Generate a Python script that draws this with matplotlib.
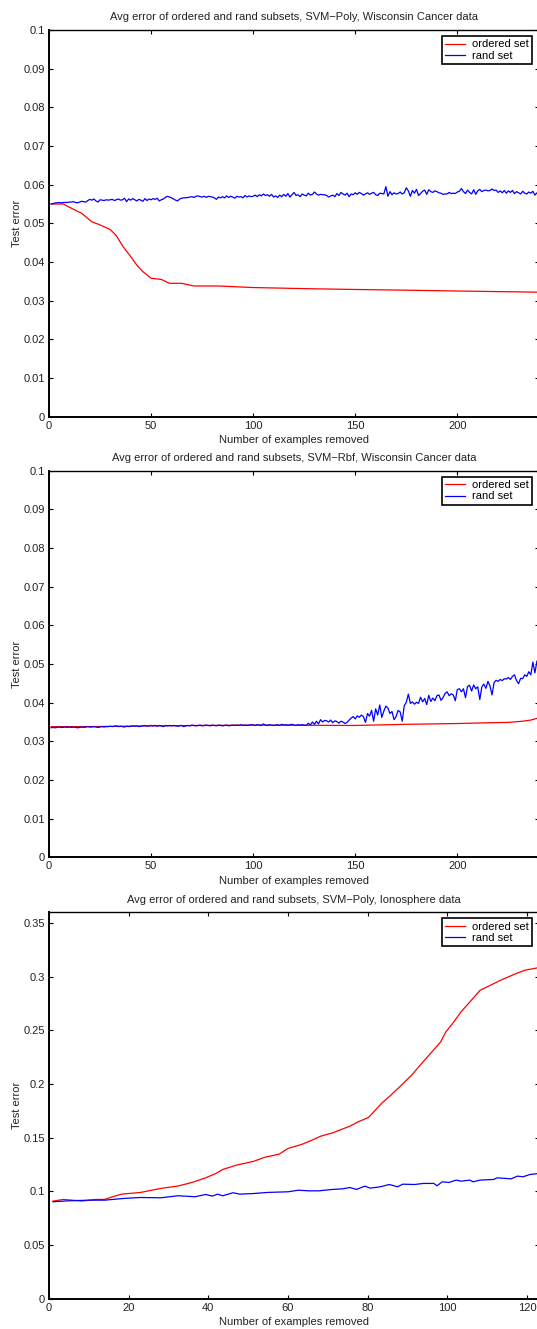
import matplotlib
matplotlib.use("Agg")
import matplotlib.pyplot as plt
import numpy as np
from matplotlib.ticker import FixedLocator

plt.rcParams['font.family'] = ['Liberation Sans', 'DejaVu Sans']
FS = 8

# ---- panel 1: SVM-Poly, Wisconsin Cancer ----
poly_wc_ordered_x = [1, 7, 11, 16, 21, 25, 30, 33, 36, 40, 43, 46, 50, 55, 59, 65, 71,
                     83, 100, 127, 150, 177, 200, 240]
poly_wc_ordered_y = [0.0550, 0.0550, 0.0539, 0.0526, 0.0504, 0.0496, 0.0484, 0.0468,
                     0.0442, 0.0414, 0.0392, 0.0375, 0.0358, 0.0355, 0.0345, 0.0345,
                     0.0338, 0.0338, 0.0334, 0.0331, 0.0329, 0.0327, 0.0325, 0.0322]
poly_wc_rand = [
    0.0550, 0.0551, 0.0553, 0.0553, 0.0554, 0.0553, 0.0554, 0.0554, 0.0554, 0.0555,
    0.0555, 0.0556, 0.0554, 0.0553, 0.0555, 0.0557, 0.0556, 0.0555, 0.0559, 0.0562,
    0.0560, 0.0563, 0.0558, 0.0555, 0.0561, 0.0560, 0.0559, 0.0561, 0.0560, 0.0561,
    0.0562, 0.0559, 0.0561, 0.0563, 0.0560, 0.0561, 0.0565, 0.0556, 0.0563, 0.0560,
    0.0564, 0.0561, 0.0558, 0.0562, 0.0560, 0.0557, 0.0564, 0.0559, 0.0563, 0.0561,
    0.0564, 0.0562, 0.0565, 0.0558, 0.0561, 0.0563, 0.0567, 0.0570, 0.0568, 0.0566,
    0.0563, 0.0560, 0.0558, 0.0563, 0.0565, 0.0566, 0.0566, 0.0567, 0.0568, 0.0569,
    0.0567, 0.0570, 0.0571, 0.0569, 0.0568, 0.0570, 0.0567, 0.0570, 0.0569, 0.0568,
    0.0566, 0.0562, 0.0568, 0.0566, 0.0569, 0.0566, 0.0571, 0.0567, 0.0570, 0.0568,
    0.0565, 0.0570, 0.0568, 0.0569, 0.0566, 0.0572, 0.0568, 0.0571, 0.0569, 0.0570,
    0.0573, 0.0569, 0.0574, 0.0571, 0.0576, 0.0572, 0.0574, 0.0570, 0.0575, 0.0568,
    0.0571, 0.0567, 0.0573, 0.0569, 0.0575, 0.0570, 0.0577, 0.0568, 0.0574, 0.0580,
    0.0572, 0.0574, 0.0569, 0.0576, 0.0573, 0.0571, 0.0578, 0.0573, 0.0575, 0.0581,
    0.0576, 0.0573, 0.0575, 0.0574, 0.0574, 0.0572, 0.0568, 0.0571, 0.0573, 0.0569,
    0.0577, 0.0572, 0.0580, 0.0576, 0.0573, 0.0578, 0.0569, 0.0576, 0.0574, 0.0579,
    0.0575, 0.0580, 0.0577, 0.0573, 0.0576, 0.0579, 0.0575, 0.0578, 0.0580, 0.0574,
    0.0572, 0.0578, 0.0577, 0.0576, 0.0595, 0.0570, 0.0582, 0.0574, 0.0579, 0.0576,
    0.0577, 0.0581, 0.0576, 0.0579, 0.0592, 0.0584, 0.0570, 0.0585, 0.0578, 0.0588,
    0.0572, 0.0577, 0.0583, 0.0586, 0.0575, 0.0587, 0.0582, 0.0580, 0.0584, 0.0582,
    0.0579, 0.0578, 0.0575, 0.0576, 0.0576, 0.0580, 0.0577, 0.0578, 0.0577, 0.0581,
    0.0583, 0.0590, 0.0582, 0.0577, 0.0586, 0.0580, 0.0576, 0.0587, 0.0575, 0.0584,
    0.0588, 0.0582, 0.0585, 0.0586, 0.0584, 0.0585, 0.0589, 0.0585, 0.0586, 0.0580,
    0.0584, 0.0579, 0.0585, 0.0578, 0.0584, 0.0580, 0.0585, 0.0577, 0.0582, 0.0579,
    0.0576, 0.0583, 0.0578, 0.0576, 0.0581, 0.0578, 0.0583, 0.0573, 0.0579, 0.0580,
]

# ---- panel 2: SVM-Rbf, Wisconsin Cancer ----
rbf_wc_ordered_x = [1, 20, 50, 100, 150, 175, 200, 215, 225, 232, 236, 240]
rbf_wc_ordered_y = [0.0338, 0.0338, 0.0340, 0.0342, 0.0341, 0.0344, 0.0346, 0.0348,
                    0.0349, 0.0352, 0.0355, 0.0361]
rbf_wc_rand = [
    0.0335, 0.0336, 0.0335, 0.0336, 0.0337, 0.0336, 0.0336, 0.0337, 0.0336, 0.0337,
    0.0336, 0.0337, 0.0336, 0.0335, 0.0336, 0.0337, 0.0336, 0.0337, 0.0338, 0.0337,
    0.0337, 0.0338, 0.0337, 0.0336, 0.0337, 0.0338, 0.0337, 0.0338, 0.0338, 0.0339,
    0.0338, 0.0339, 0.0340, 0.0338, 0.0339, 0.0338, 0.0337, 0.0339, 0.0338, 0.0339,
    0.0340, 0.0339, 0.0340, 0.0338, 0.0339, 0.0340, 0.0341, 0.0339, 0.0340, 0.0341,
    0.0340, 0.0341, 0.0339, 0.0341, 0.0340, 0.0338, 0.0341, 0.0340, 0.0341, 0.0340,
    0.0341, 0.0340, 0.0339, 0.0340, 0.0341, 0.0338, 0.0340, 0.0341, 0.0340, 0.0342,
    0.0341, 0.0340, 0.0341, 0.0342, 0.0340, 0.0341, 0.0342, 0.0341, 0.0340, 0.0342,
    0.0341, 0.0340, 0.0342, 0.0341, 0.0340, 0.0341, 0.0342, 0.0340, 0.0341, 0.0342,
    0.0341, 0.0342, 0.0341, 0.0343, 0.0341, 0.0342, 0.0341, 0.0342, 0.0343, 0.0342,
    0.0341, 0.0343, 0.0342, 0.0341, 0.0345, 0.0342, 0.0341, 0.0343, 0.0342, 0.0341,
    0.0342, 0.0343, 0.0341, 0.0344, 0.0342, 0.0343, 0.0341, 0.0343, 0.0344, 0.0342,
    0.0341, 0.0343, 0.0342, 0.0343, 0.0342, 0.0341, 0.0347, 0.0342, 0.0350, 0.0344,
    0.0352, 0.0345, 0.0356, 0.0350, 0.0354, 0.0353, 0.0350, 0.0355, 0.0348, 0.0353,
    0.0351, 0.0347, 0.0352, 0.0350, 0.0346, 0.0349, 0.0355, 0.0360, 0.0364, 0.0358,
    0.0366, 0.0362, 0.0368, 0.0364, 0.0349, 0.0372, 0.0365, 0.0380, 0.0352, 0.0384,
    0.0368, 0.0394, 0.0362, 0.0378, 0.0391, 0.0386, 0.0372, 0.0377, 0.0356, 0.0364,
    0.0380, 0.0376, 0.0352, 0.0392, 0.0401, 0.0422, 0.0398, 0.0402, 0.0396, 0.0401,
    0.0398, 0.0414, 0.0402, 0.0411, 0.0395, 0.0419, 0.0403, 0.0412, 0.0405, 0.0418,
    0.0420, 0.0406, 0.0413, 0.0424, 0.0428, 0.0418, 0.0423, 0.0420, 0.0405, 0.0434,
    0.0436, 0.0428, 0.0436, 0.0413, 0.0442, 0.0445, 0.0430, 0.0446, 0.0436, 0.0441,
    0.0408, 0.0441, 0.0448, 0.0437, 0.0455, 0.0443, 0.0420, 0.0452, 0.0458, 0.0455,
    0.0460, 0.0457, 0.0462, 0.0461, 0.0465, 0.0460, 0.0468, 0.0472, 0.0457, 0.0449,
    0.0463, 0.0462, 0.0472, 0.0468, 0.0480, 0.0472, 0.0505, 0.0477, 0.0508, 0.0488,
]

# ---- panel 3: SVM-Poly, Ionosphere ----
poly_ion_ordered_x = [1, 3.6, 8.3, 11.8, 14, 16, 18.2, 23, 28, 32.4, 35.9, 39.3, 41.9,
                      43.6, 47, 51.4, 54, 57.8, 60, 63.4, 66, 68.2, 71.2, 72.9, 75.5,
                      77.6, 80.2, 81.9, 83.6, 85.8, 88, 91, 93.5, 96.1, 98.3, 99.6,
                      101.3, 103.4, 106, 108.2, 110.8, 113.3, 116.8, 119.4, 123]
poly_ion_ordered_y = [0.0909, 0.0925, 0.0910, 0.0925, 0.0925, 0.0950, 0.0974, 0.0990,
                      0.1027, 0.1050, 0.1083, 0.1126, 0.1167, 0.1204, 0.1244, 0.1280,
                      0.1316, 0.1347, 0.1400, 0.1437, 0.1477, 0.1514, 0.1545, 0.1570,
                      0.1607, 0.1648, 0.1688, 0.1756, 0.1824, 0.1896, 0.1973, 0.2082,
                      0.2190, 0.2299, 0.2392, 0.2485, 0.2563, 0.2671, 0.2780, 0.2873,
                      0.2920, 0.2966, 0.3022, 0.3060, 0.3085]
poly_ion_rand_x = [1, 4.9, 10, 14, 18.7, 23, 28, 32.4, 36.7, 39.3, 41, 42.3, 43.6, 46.2,
                   47.9, 51.4, 54.8, 60, 62.6, 65.1, 67.7, 71.2, 73.8, 75.5, 77.2, 79.3,
                   80.6, 83.2, 85.4, 87.5, 88.8, 91.8, 94, 96.6, 97.4, 98.7, 100.4, 102.2,
                   103.4, 105.6, 106.5, 108.2, 111.6, 112.5, 116, 117.6, 119, 120.7, 123]
poly_ion_rand_y = [0.0903, 0.0912, 0.0918, 0.0918, 0.0934, 0.0943, 0.0940, 0.0959,
                   0.0950, 0.0971, 0.0956, 0.0974, 0.0959, 0.0987, 0.0974, 0.0980,
                   0.0990, 0.0996, 0.1011, 0.1005, 0.1005, 0.1018, 0.1024, 0.1036,
                   0.1018, 0.1049, 0.1030, 0.1043, 0.1064, 0.1043, 0.1067, 0.1064,
                   0.1074, 0.1074, 0.1052, 0.1089, 0.1083, 0.1105, 0.1095, 0.1105,
                   0.1089, 0.1105, 0.1111, 0.1126, 0.1117, 0.1142, 0.1136, 0.1157,
                   0.1167]

titles = ["Avg error of ordered and rand subsets, SVM\u2212Poly, Wisconsin Cancer data",
          "Avg error of ordered and rand subsets, SVM\u2212Rbf, Wisconsin Cancer data",
          "Avg error of ordered and rand subsets, SVM\u2212Poly, Ionosphere data"]

W, H = 537, 1329
fig = plt.figure(figsize=(W / 100, H / 100), dpi=100)

# axes boxes in pixels: left, top, right, bottom (right spine falls off the page)
boxes = [(49, 30, 539, 416.7), (49, 470.7, 539, 857.3), (49, 912.3, 539, 1298.7)]


def make_axes(box):
    l, t, r, b = box
    return fig.add_axes([l / W, (H - b) / H, (r - l) / W, (b - t) / H])


def style(ax, xlim, xticks, ylim, yticks, title):
    ax.set_xlim(*xlim)
    ax.set_ylim(*ylim)
    ax.xaxis.set_major_locator(FixedLocator(xticks))
    ax.yaxis.set_major_locator(FixedLocator(yticks))
    ax.set_xticklabels(['%g' % v for v in xticks])
    ax.set_yticklabels(['%g' % v for v in yticks])
    ax.tick_params(direction='in', length=3, width=0.8, top=True, right=True,
                   labelsize=FS, pad=3, labelcolor='#222222')
    for s in ['left', 'bottom']:
        ax.spines[s].set_linewidth(1.4)
    for s in ['top', 'right']:
        ax.spines[s].set_linewidth(1.0)
    ax.set_title(title, fontsize=FS, pad=7, color='#222222')
    ax.set_xlabel('Number of examples removed', fontsize=FS, labelpad=3, color='#222222')
    ax.set_ylabel('Test error', fontsize=FS, labelpad=1, color='#222222')
    leg = ax.legend(loc='upper right', bbox_to_anchor=(1 - 7 / 490, 1 - 6 / 387),
                    borderaxespad=0, fancybox=False, framealpha=1, fontsize=FS,
                    handlelength=1.8, handletextpad=0.6, borderpad=0.3,
                    labelspacing=0.12, handleheight=0.6)
    leg.get_frame().set_edgecolor('black')
    leg.get_frame().set_linewidth(1.2)


n = np.arange(1, len(poly_wc_rand) + 1)

ax1 = make_axes(boxes[0])
ax1.plot(poly_wc_ordered_x, poly_wc_ordered_y, color='red', lw=0.9, label='ordered set')
ax1.plot(n, poly_wc_rand, color='blue', lw=0.9, label='rand set')
style(ax1, (0, 240), [0, 50, 100, 150, 200], (0, 0.1),
      [round(0.01 * i, 2) for i in range(11)], titles[0])

ax2 = make_axes(boxes[1])
ax2.plot(rbf_wc_ordered_x, rbf_wc_ordered_y, color='red', lw=0.9, label='ordered set')
ax2.plot(n, rbf_wc_rand, color='blue', lw=0.9, label='rand set')
style(ax2, (0, 240), [0, 50, 100, 150, 200], (0, 0.1),
      [round(0.01 * i, 2) for i in range(11)], titles[1])

ax3 = make_axes(boxes[2])
ax3.plot(poly_ion_ordered_x, poly_ion_ordered_y, color='red', lw=0.9, label='ordered set')
ax3.plot(poly_ion_rand_x, poly_ion_rand_y, color='blue', lw=0.9, label='rand set')
style(ax3, (0, 123), [0, 20, 40, 60, 80, 100, 120], (0, 0.36),
      [round(0.05 * i, 2) for i in range(8)], titles[2])

fig.savefig('out.png', dpi=100)
